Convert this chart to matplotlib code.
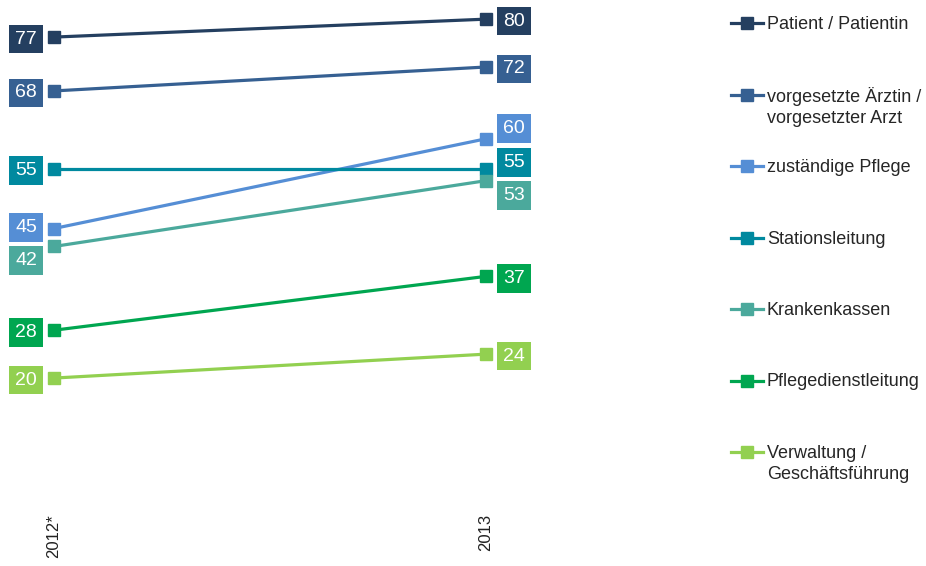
import matplotlib
matplotlib.use('Agg')
import matplotlib.pyplot as plt
import numpy as np

plt.rcParams['font.family'] = ['Liberation Sans', 'DejaVu Sans']

years = ['2012*', '2013']
series = [
    'Patient / Patientin',
    'vorgesetzte Ärztin /\nvorgesetzter Arzt',
    'zuständige Pflege',
    'Stationsleitung',
    'Krankenkassen',
    'Pflegedienstleitung',
    'Verwaltung /\nGeschäftsführung',
]
values_2012 = [77, 68, 45, 55, 42, 28, 20]
values_2013 = [80, 72, 60, 55, 53, 37, 24]
colors = ['#243F60', '#366092', '#558ED5', '#00899F', '#4BA99C', '#00A650', '#92D050']

# label nudges (pixels) so boxes don't overlap
nudge_2012 = [0, 0, 3, 0, -12, 0, 0]
nudge_2013 = [0, 0, 12, 8, -13, 0, 0]

W, H = 926, 566
fig = plt.figure(figsize=(W / 100, H / 100), dpi=100)
ax = fig.add_axes([0, (H - 497.7) / H, 540 / W, 497.7 / H])

x = np.arange(len(years))
for i, name in enumerate(series):
    ys = [values_2012[i], values_2013[i]]
    ax.plot(x, ys, color=colors[i], lw=2.3, marker='s', markersize=9,
            solid_capstyle='butt', zorder=3)
    box = dict(boxstyle='square,pad=0.3', facecolor=colors[i], edgecolor='none')
    ax.annotate(str(ys[0]), (x[0], ys[0]), xytext=(-28, nudge_2012[i]),
                textcoords='offset pixels', ha='center', va='center_baseline',
                fontsize=14, color='white', bbox=box, zorder=4)
    ax.annotate(str(ys[1]), (x[1], ys[1]), xytext=(28, nudge_2013[i]),
                textcoords='offset pixels', ha='center', va='center_baseline',
                fontsize=14, color='white', bbox=box, zorder=4)

ax.set_xlim(-0.125, 1.125)
ax.set_ylim(0, 83.2)
ax.set_xticks(x)
ax.set_xticklabels(years, rotation=90, fontsize=12, color='#222222')
ax.tick_params(axis='x', length=0, pad=12)
ax.set_yticks([])
for s in ax.spines.values():
    s.set_visible(False)

# legend drawn in pixel coordinates
leg = fig.add_axes([0, 0, 1, 1])
leg.set_xlim(0, W)
leg.set_ylim(H, 0)
leg.axis('off')
for i, name in enumerate(series):
    yy = 23 + i * 71.5
    leg.plot([731, 763], [yy, yy], color=colors[i], lw=2.3)
    leg.plot([747], [yy], color=colors[i], marker='s', markersize=8)
    leg.text(767, yy - 7, name, fontsize=13, color='#262626', va='top',
             ha='left', linespacing=1.3)

fig.savefig('out.png', dpi=100)
